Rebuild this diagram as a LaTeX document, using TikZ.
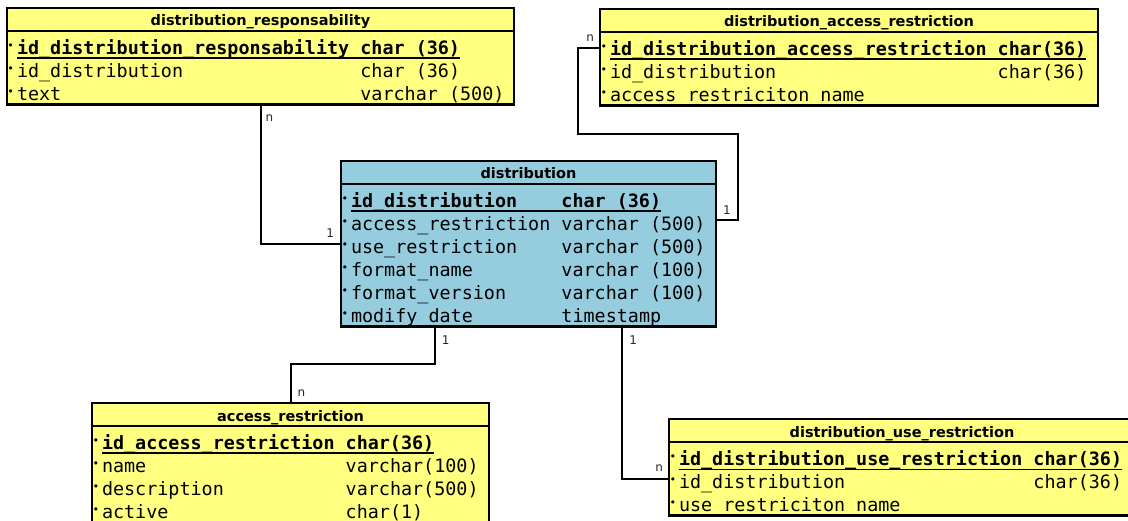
\documentclass[tikz,border=0pt]{standalone}
\usepackage{fontspec}
\setsansfont{DejaVu Sans}
\setmonofont{DejaVu Sans Mono}
\usetikzlibrary{positioning}
\definecolor{myyellow}{RGB}{255,255,128}
\definecolor{myblue}{RGB}{150,205,222}
\newcommand{\bul}{\makebox[10pt][l]{\hspace{0.5pt}\raisebox{5pt}{\fontsize{11}{11}\selectfont •}}}
\newcommand{\colw}[2]{\makebox[#1\fontcharwd\font`0][l]{#2}}
\newcommand{\rowstrut}{\spaceskip=0pt\xspaceskip=0pt\rule[-2pt]{0pt}{23.5pt}}
\newcommand{\rowfont}{\ttfamily\fontsize{18.4}{23}\selectfont\lineskiplimit=-50pt\relax}
\newcommand{\fld}[3]{\rowstrut\smash{\bul\colw{#1}{#2}#3}}
\newcommand{\pkey}[3]{\rowstrut\smash{\bul\textbf{\setbox0\hbox{\colw{#1}{#2}#3}\rlap{\rule[-4.6pt]{\wd0}{1.6pt}}\box0}}}
\newcommand{\widthresp}{507pt}
\newcommand{\widthdar}{498pt}
\newcommand{\widthdist}{375pt}
\newcommand{\widthacc}{397pt}
\newcommand{\widthuse}{466pt}
\tikzset{
    common/.style={draw, line width=2.2pt, outer sep=0pt},
    thead/.style={common, anchor=north west, minimum width=#1, minimum height=23pt, inner sep=0pt,
        text height=14pt, text depth=1pt, font=\sffamily\bfseries\fontsize{14.5}{17}\selectfont},
    tbody/.style={common, text width=#1, inner xsep=0pt, inner ysep=2pt, align=left, font=\rowfont},
    link/.style={draw, line width=2pt},
    tag/.style={inner sep=0pt, text height=8.8pt, text depth=0pt, text=black!85,
        font=\sffamily\fontsize{12}{12}\selectfont},
}
\begin{document}
\begin{tikzpicture}[x=1pt, y=-1pt]
\useasboundingbox (0,0) rectangle (1128,521);
% tables
\node[thead=\widthresp, fill=myyellow] (resp) at (7,8) {distribution\_responsability};
\node[tbody=\widthresp, fill=myyellow, below=0pt of resp] (resp-rows)
    {\pkey{31}{id\_distribution\_responsability}{char (36)}\\
     \fld{31}{id\_distribution}{char (36)}\\
     \fld{31}{text}{varchar (500)}};
\node[thead=\widthdar, fill=myyellow] (dar) at (600,9) {distribution\_access\_restriction};
\node[tbody=\widthdar, fill=myyellow, below=0pt of dar] (dar-rows)
    {\pkey{35}{id\_distribution\_access\_restriction}{char(36)}\\
     \fld{35}{id\_distribution}{char(36)}\\
     \fld{35}{access restriciton name}{}};
\node[thead=\widthdist, fill=myblue] (dist) at (341,161) {distribution};
\node[tbody=\widthdist, fill=myblue, below=0pt of dist] (dist-rows)
    {\pkey{19}{id\_distribution}{char (36)}\\
     \fld{19}{access\_restriction}{varchar (500)}\\
     \fld{19}{use\_restriction}{varchar (500)}\\
     \fld{19}{format\_name}{varchar (100)}\\
     \fld{19}{format\_version}{varchar (100)}\\
     \fld{19}{modify date}{timestamp}};
\node[thead=\widthacc, fill=myyellow] (acc) at (92,403) {access\_restriction};
\node[tbody=\widthacc, fill=myyellow, below=0pt of acc] (acc-rows)
    {\pkey{22}{id\_access\_restriction}{char(36)}\\
     \fld{22}{name}{varchar(100)}\\
     \fld{22}{description}{varchar(500)}\\
     \fld{22}{active}{char(1)}};
\node[thead=\widthuse, fill=myyellow] (use) at (669,419) {distribution\_use\_restriction};
\node[tbody=\widthuse, fill=myyellow, below=0pt of use] (use-rows)
    {\pkey{32}{id\_distribution\_use\_restriction}{char(36)}\\
     \fld{32}{id\_distribution}{char(36)}\\
     \fld{32}{use restriciton name}{}};
% relations
\draw[link] (resp-rows.south) node[tag, below right=7pt and 4pt] {n}
    |- ([yshift=11.5pt]dist-rows.west) node[tag, above left=5pt and 6pt] {1};
\draw[link] ([yshift=20.5pt]dar-rows.west) node[tag, above left=6pt and 5pt] {n}
    -- ++(-22,0) -- ++(0,86) -- ++(160,0)
    |- ([yshift=35pt]dist-rows.east) node[tag, above right=5pt and 6pt] {1};
\draw[link] ([xshift=-93.75pt]dist-rows.south) node[tag, below right=8pt and 6pt] {1}
    -- ++(0,38) -| (acc.north) node[tag, above right=5pt and 6pt] {n};
\draw[link] ([xshift=93.75pt]dist-rows.south) node[tag, below right=8pt and 6pt] {1}
    |- (use-rows.west) node[tag, above left=6pt and 5pt] {n};
\end{tikzpicture}
\end{document}
